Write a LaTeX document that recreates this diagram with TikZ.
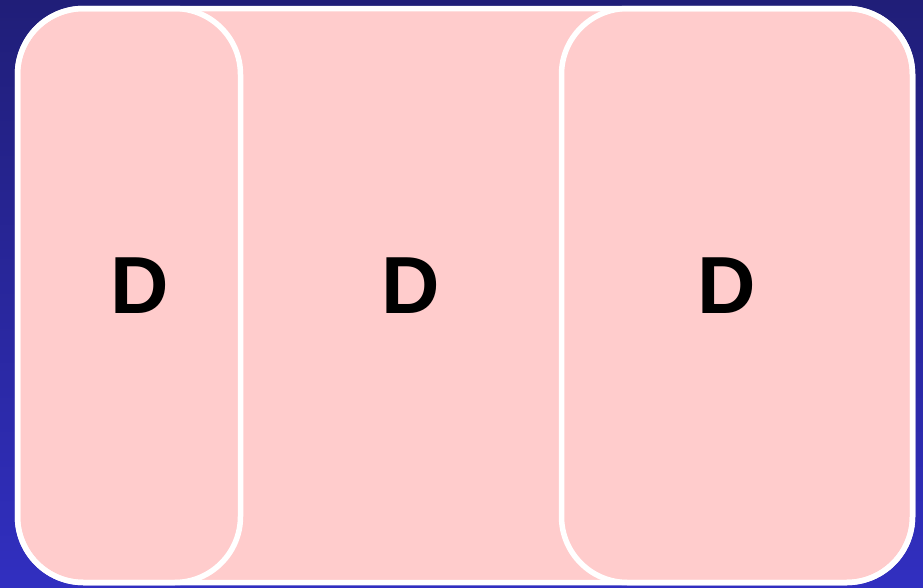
\documentclass[tikz,border=0pt]{standalone}
\usepackage{fontspec}
\setsansfont{Liberation Sans}
\usetikzlibrary{positioning}

\definecolor{bgtop}{RGB}{32,30,120}
\definecolor{bgbot}{RGB}{49,47,192}
\definecolor{panel}{RGB}{255,204,204}

\begin{document}
\begin{tikzpicture}[x=1pt, y=-1pt,
  frame/.style={draw=white, line width=5.5pt, rounded corners=66pt},
  letter/.style={font=\sffamily\bfseries\fontsize{81}{81}\selectfont, inner sep=0pt}]

\def\xL{17.5}
\def\xR{912.5}
\def\yT{8.5}
\def\yB{582.5}
\def\xM{240.5}
\def\xN{561.5}

\useasboundingbox (0,0) rectangle (923,587);
\shade[top color=bgtop, bottom color=bgbot] (0,0) rectangle (923,587);

\fill[panel, rounded corners=66pt] (\xL,\yT) rectangle (\xR,\yB);
\draw[frame] (\xL,\yT) rectangle (\xR,\yB);

\draw[frame] (\xL,\yT) rectangle (\xM,\yB);
\draw[frame] (\xN,\yT) rectangle (\xR,\yB);

\node[letter] (dleft) at (140,286) {D};
\node[letter] (dmid) at (411,286) {D};
\node[letter] (dright) at (727,286) {D};

\end{tikzpicture}
\end{document}
